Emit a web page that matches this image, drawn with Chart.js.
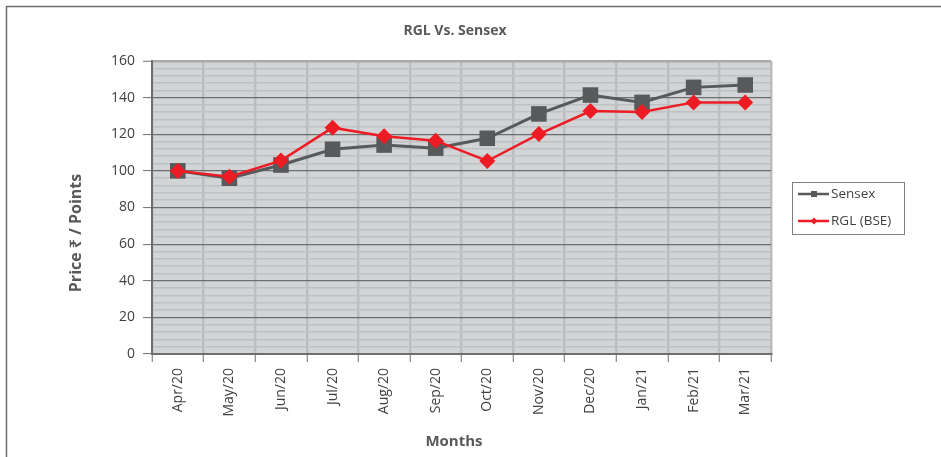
<!DOCTYPE html>
<html>
<head>
<meta charset="utf-8">
<script src="https://cdn.jsdelivr.net/npm/chart.js@4.4.1/dist/chart.umd.min.js"></script>
<style>
html,body{margin:0;padding:0;background:#fff;overflow:hidden;}
#wrap{width:941px;height:457px;position:relative;}
</style>
</head>
<body>
<div id="wrap"><canvas id="c" width="941" height="457"></canvas></div>
<script>
const chartTitle = 'RGL Vs. Sensex';
const xAxisTitle = 'Months';
const yAxisTitle = 'Price ₹ / Points';
const categories = ['Apr/20','May/20','Jun/20','Jul/20','Aug/20','Sep/20','Oct/20','Nov/20','Dec/20','Jan/21','Feb/21','Mar/21'];
const sensexValues = [100, 96, 103.2, 111.8, 114.1, 112.4, 117.8, 131.1, 141.4, 137.4, 145.6, 146.9];
const rglValues = [100, 96.8, 105.6, 123.6, 118.9, 116.5, 105.4, 120.1, 132.7, 132.2, 137.4, 137.4];
const yTickLabels = [0, 20, 40, 60, 80, 100, 120, 140, 160];

const FONT = "'Open Sans', 'Noto Sans', 'DejaVu Sans', sans-serif";
const TEXT = '#414042';

const decor = {
  id: 'decor',
  beforeDraw(chart) {
    const {ctx, chartArea: a, width, height} = chart;
    ctx.save();
    ctx.fillStyle = '#ffffff';
    ctx.fillRect(0, 0, width, height);
    ctx.strokeStyle = '#6d6e70';
    ctx.lineWidth = 1.5;
    ctx.beginPath();
    ctx.moveTo(6.5, height);
    ctx.lineTo(6.5, 6.5);
    ctx.lineTo(width, 6.5);
    ctx.stroke();
    ctx.fillStyle = '#d3d4d6';
    ctx.fillRect(a.left, a.top, a.right - a.left, a.bottom - a.top);
    ctx.restore();
  },
  afterDraw(chart) {
    const {ctx} = chart;
    ctx.save();
    // chart title
    ctx.fillStyle = '#58595b';
    ctx.font = "bold 14px " + FONT;
    ctx.textAlign = 'center';
    ctx.textBaseline = 'middle';
    ctx.fillText(chartTitle, 455, 31);
    // x title
    ctx.font = "bold 15px " + FONT;
    ctx.fillText(xAxisTitle, 454, 442);
    // y title
    ctx.translate(76, 233);
    ctx.rotate(-Math.PI / 2);
    ctx.font = "bold 16px " + FONT;
    ctx.fillText(yAxisTitle, 0, 0);
    ctx.restore();

    // legend
    ctx.save();
    const bx = 792.5, by = 182.5, bw = 112, bh = 52;
    ctx.fillStyle = '#ffffff';
    ctx.fillRect(bx, by, bw, bh);
    ctx.strokeStyle = '#808080';
    ctx.lineWidth = 1;
    ctx.strokeRect(bx, by, bw, bh);
    chart.data.datasets.forEach((ds, i) => {
      const y = 194 + i * 27;
      ctx.strokeStyle = ds.borderColor;
      ctx.lineWidth = 2.5;
      ctx.beginPath();
      ctx.moveTo(798, y);
      ctx.lineTo(829, y);
      ctx.stroke();
      ctx.fillStyle = ds.borderColor;
      if (ds.pointStyle === 'rect') {
        ctx.fillRect(811, y - 3, 6, 6);
      } else {
        ctx.beginPath();
        ctx.moveTo(814, y - 3.5);
        ctx.lineTo(817.5, y);
        ctx.lineTo(814, y + 3.5);
        ctx.lineTo(810.5, y);
        ctx.closePath();
        ctx.fill();
      }
      ctx.fillStyle = TEXT;
      ctx.font = "13.5px " + FONT;
      ctx.textAlign = 'left';
      ctx.textBaseline = 'middle';
      ctx.fillText(ds.label, 831, y);
    });
    ctx.restore();
  }
};

new Chart(document.getElementById('c'), {
  type: 'line',
  data: {
    labels: categories,
    datasets: [
      {
        label: 'Sensex',
        data: sensexValues,
        borderColor: '#58595b',
        backgroundColor: '#58595b',
        borderWidth: 3,
        pointStyle: 'rect',
        pointRadius: 11,
        pointBorderWidth: 0,
        tension: 0,
        order: 1
      },
      {
        label: 'RGL (BSE)',
        data: rglValues,
        borderColor: '#ed1c24',
        backgroundColor: '#ed1c24',
        borderWidth: 2.5,
        pointStyle: 'rectRot',
        pointRadius: 8,
        pointBorderWidth: 0,
        tension: 0,
        order: 0
      }
    ]
  },
  options: {
    responsive: false,
    animation: false,
    devicePixelRatio: 1,
    layout: {padding: {top: 61, right: 170, left: 0, bottom: 0}},
    plugins: {legend: {display: false}, title: {display: false}, tooltip: {enabled: false}},
    scales: {
      x: {
        type: 'category',
        offset: true,
        grid: {
          offset: true,
          color: '#bcbdc0',
          lineWidth: 2.5,
          tickColor: '#6d6e70',
          tickLength: 8,
          tickWidth: 1
        },
        border: {color: '#6d6e70', width: 2},
        ticks: {
          maxRotation: 90,
          minRotation: 90,
          autoSkip: false,
          padding: 6,
          color: TEXT,
          font: {family: FONT, size: 14}
        },
        afterFit(s) { s.height = 103; }
      },
      y: {
        min: 0,
        max: 160,
        ticks: {
          stepSize: 4,
          autoSkip: false,
          padding: 8,
          color: TEXT,
          font: {family: FONT, size: 14},
          callback: (v) => yTickLabels.includes(v) ? String(v) : ''
        },
        grid: {
          color: (c) => c.tick && c.tick.value === 160 ? '#a7a9ac' : (c.tick && c.tick.value % 20 === 0 ? '#6d6e70' : '#bfc0c2'),
          lineWidth: (c) => c.tick && c.tick.value === 160 ? 2.5 : (c.tick && c.tick.value % 20 === 0 ? 1.2 : 1.6),
          tickColor: (c) => c.tick && c.tick.value % 20 === 0 ? '#6d6e70' : 'rgba(0,0,0,0)',
          tickLength: 9,
          tickWidth: 1
        },
        border: {color: '#6d6e70', width: 2},
        afterFit(s) { s.width = 152; }
      }
    }
  },
  plugins: [decor]
});
</script>
</body>
</html>
